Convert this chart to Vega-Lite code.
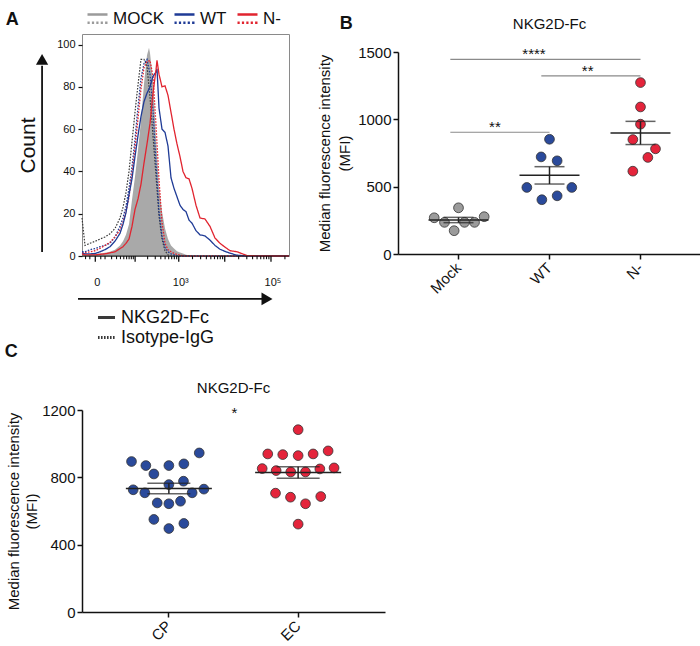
{
  "$schema": "https://vega.github.io/schema/vega-lite/v6.json",
  "padding": {"left": 4, "top": 6, "right": 0, "bottom": 0},
  "config": {
    "font": "Liberation Sans",
    "view": {"stroke": null},
    "axis": {"domainColor": "#111", "tickColor": "#111", "labelColor": "#111", "titleColor": "#111", "grid": false, "titleFontWeight": "normal"},
    "title": {"fontWeight": "normal", "color": "#111"},
    "legend": {"labelColor": "#111"}
  },
  "resolve": {
    "scale": {"fill": "independent", "xOffset": "independent", "color": "independent", "strokeDash": "independent"},
    "legend": {"color": "independent", "strokeDash": "independent", "fill": "independent"}
  },
  "vconcat": [
    {
      "align": "none",
      "resolve": {
        "scale": {"fill": "independent", "xOffset": "independent", "color": "independent", "strokeDash": "independent"},
        "legend": {"color": "independent", "strokeDash": "independent", "fill": "independent"}
      },
      "hconcat": [
        {
          "width": 207,
          "height": 222,
          "view": {"stroke": "#8a8a8a", "strokeWidth": 1},
          "title": {"text": "A", "anchor": "start", "frame": "bounds", "fontSize": 18, "fontWeight": "bold", "offset": -22, "dx": -12},
          "layer": [
            {
              "data": {"name": "hist"},
              "transform": [{"filter": "datum.g === 'Mock' && datum.s === 'NKG2D-Fc'"}],
              "mark": {"type": "area", "color": "#a9a9a9", "opacity": 1},
              "encoding": {
                "x": {"field": "fi", "type": "quantitative", "scale": {"type": "symlog", "constant": 16, "domain": [-15, 245000], "nice": false, "zero": false}, "axis": null},
                "y": {"field": "n", "type": "quantitative", "scale": {"domain": [0, 105], "nice": false},
                  "axis": {"title": "Count", "titleFontSize": 21, "titlePadding": 18, "values": [0,5,10,15,20,25,30,35,40,45,50,55,60,65,70,75,80,85,90,95,100],
                    "labelExpr": "datum.value % 20 == 0 ? datum.label : ''",
                    "tickSize": 4, "tickWidth": 1.2, "domain": false, "labelFontSize": 11, "labelPadding": 3, "labelOverlap": false}}
              }
            },
            {
              "data": {"name": "hist"},
              "transform": [{"filter": "datum.g === 'Mock' && datum.s === 'Isotype-IgG'"}],
              "mark": {"type": "line", "color": "#3a3a3a", "strokeWidth": 1.2},
              "encoding": {
                "x": {"field": "fi", "type": "quantitative", "axis": null},
                "y": {"field": "n", "type": "quantitative"},
                "strokeDash": {"field": "s", "type": "nominal"}
              }
            },
            {
              "data": {"name": "hist"},
              "transform": [{"filter": "datum.g !== 'Mock'"}],
              "mark": {"type": "line", "strokeWidth": 1.3},
              "encoding": {
                "x": {"field": "fi", "type": "quantitative", "axis": null},
                "y": {"field": "n", "type": "quantitative"},
                "color": {"field": "g", "type": "nominal", "scale": {"domain": ["Mock", "WT", "N-"], "range": ["#9b9b9b", "#1f3b96", "#e1242f"]},
                  "legend": {"orient": "top", "direction": "horizontal", "title": null, "symbolType": "M-1,-0.42H1M-1,0.42H-0.78M-0.56,0.42H-0.34M-0.12,0.42H0.1M0.32,0.42H0.54M0.76,0.42H1", "symbolSize": 400, "symbolStrokeWidth": 2.5, "labelFontSize": 17, "labelExpr": "datum.label === 'Mock' ? 'MOCK' : datum.label", "columnPadding": 5, "labelOffset": 4, "offset": 6, "symbolOffset": 4}},
                "strokeDash": {"field": "s", "type": "nominal", "scale": {"domain": ["NKG2D-Fc", "Isotype-IgG"], "range": [[1, 0], [1.6, 1.4]]},
                  "legend": {"orient": "bottom", "direction": "vertical", "title": null, "symbolType": "stroke", "symbolStrokeColor": "#111", "symbolStrokeWidth": 3, "symbolSize": 290, "labelFontSize": 18, "rowPadding": 0, "offset": 48, "symbolOffset": 14}}
              }
            },
            {
              "data": {"values": [{"fi": -15, "fi2": 245000}]},
              "mark": {"type": "rule", "color": "#222", "strokeWidth": 1.2},
              "encoding": {"x": {"field": "fi", "type": "quantitative", "axis": null}, "x2": {"field": "fi2"}, "y": {"datum": 0}}
            },
            {
              "data": {"name": "xticks"},
              "transform": [{"filter": "datum.k === 'major'"}],
              "mark": {"type": "rule", "color": "#111", "strokeWidth": 1.3},
              "encoding": {"x": {"field": "fi", "type": "quantitative", "axis": null}, "y": {"datum": 0}, "y2": {"datum": -2.7}}
            },
            {
              "data": {"name": "xticks"},
              "transform": [{"filter": "datum.k === 'minor'"}],
              "mark": {"type": "rule", "color": "#111", "strokeWidth": 1.1},
              "encoding": {"x": {"field": "fi", "type": "quantitative", "axis": null}, "y": {"datum": 0}, "y2": {"datum": -1.5}}
            },
            {
              "data": {"values": [{"fi": 0, "lab": "0"}, {"fi": 1000, "lab": "10³"}, {"fi": 100000, "lab": "10⁵"}]},
              "mark": {"type": "text", "fontSize": 11, "baseline": "middle", "align": "center", "dx": 2, "color": "#111"},
              "encoding": {"x": {"field": "fi", "type": "quantitative", "axis": null}, "y": {"datum": -12.8}, "text": {"field": "lab"}}
            },
            {
              "data": {"values": [{"fi": -210, "n": 1.9, "n2": 90}]},
              "mark": {"type": "rule", "color": "#111", "strokeWidth": 1.8},
              "encoding": {"x": {"field": "fi", "type": "quantitative", "axis": null}, "y": {"field": "n", "type": "quantitative"}, "y2": {"field": "n2"}}
            },
            {
              "data": {"values": [{"fi": -210, "n": 93}]},
              "mark": {"type": "point", "shape": "triangle-up", "filled": true, "color": "#111", "opacity": 1, "size": 150},
              "encoding": {"x": {"field": "fi", "type": "quantitative", "axis": null}, "y": {"field": "n", "type": "quantitative"}}
            },
            {
              "data": {"values": [{"fi": -21.8, "fi2": 70000, "n": -20.3}]},
              "mark": {"type": "rule", "color": "#111", "strokeWidth": 1.8},
              "encoding": {"x": {"field": "fi", "type": "quantitative", "axis": null}, "x2": {"field": "fi2"}, "y": {"field": "n", "type": "quantitative"}}
            },
            {
              "data": {"values": [{"fi": 82000, "n": -20.3}]},
              "mark": {"type": "point", "shape": "triangle-right", "filled": true, "color": "#111", "opacity": 1, "size": 160},
              "encoding": {"x": {"field": "fi", "type": "quantitative", "axis": null}, "y": {"field": "n", "type": "quantitative"}}
            }
          ]
        },
        {
          "title": {"text": "B", "anchor": "start", "fontSize": 18, "fontWeight": "bold", "offset": -16, "dx": 22},
          "vconcat": [
            {
              "width": 303,
              "height": 220,
              "title": {"text": "NKG2D-Fc", "fontSize": 15, "offset": 2},
              "data": {"values": [
                {"grp":"Mock","jit":0,"mfi":343},{"grp":"Mock","jit":-0.267,"mfi":269},{"grp":"Mock","jit":0.282,"mfi":277},{"grp":"Mock","jit":-0.154,"mfi":235},{"grp":"Mock","jit":0.066,"mfi":235},{"grp":"Mock","jit":0.176,"mfi":235},{"grp":"Mock","jit":-0.048,"mfi":173},
                {"grp":"WT","jit":0,"mfi":852},{"grp":"WT","jit":-0.092,"mfi":721},{"grp":"WT","jit":0.084,"mfi":692},{"grp":"WT","jit":-0.249,"mfi":494},{"grp":"WT","jit":0.245,"mfi":494},{"grp":"WT","jit":-0.084,"mfi":403},{"grp":"WT","jit":0.084,"mfi":432},
                {"grp":"N-","jit":0,"mfi":1273},{"grp":"N-","jit":0,"mfi":1092},{"grp":"N-","jit":0,"mfi":964},{"grp":"N-","jit":-0.084,"mfi":850},{"grp":"N-","jit":0.165,"mfi":781},{"grp":"N-","jit":0.081,"mfi":717},{"grp":"N-","jit":-0.084,"mfi":615}
              ]},
              "layer": [
                {
                  "mark": {"type": "circle", "size": 95, "stroke": "#333", "strokeWidth": 0.8, "opacity": 1},
                  "encoding": {
                    "x": {"field": "grp", "type": "nominal", "title": null, "sort": ["Mock", "WT", "N-"], "scale": {"type": "band", "domain": ["Mock", "WT", "N-"], "paddingInner": 0, "paddingOuter": 0.165},
                      "axis": {"title": null, "labelAngle": -45, "labelAlign": "right", "labelBaseline": "middle", "labelFontSize": 15, "tickSize": 5, "tickWidth": 1.5, "domainWidth": 1.5, "labelPadding": 6}},
                    "xOffset": {"field": "jit", "type": "quantitative", "scale": {"domain": [-0.5, 0.5]}},
                    "y": {"field": "mfi", "type": "quantitative", "title": ["Median fluorescence intensity", "(MFI)"], "scale": {"domain": [0, 1500], "range": [220, 18], "nice": false},
                      "axis": {"titleFontSize": 15, "titleLineHeight": 20, "titlePadding": 5, "values": [0, 500, 1000, 1500], "format": "d", "labelFontSize": 15, "tickSize": 5, "tickWidth": 1.5, "domainWidth": 1.5, "labelPadding": 2}},
                    "fill": {"field": "grp", "type": "nominal", "scale": {"domain": ["Mock", "WT", "N-"], "range": ["#9b9b9b", "#2a4a9b", "#e4243b"]}, "legend": null}
                  }
                },
                {
                  "mark": {"type": "tick", "size": 60, "thickness": 1.5, "color": "#222"},
                  "encoding": {
                    "x": {"field": "grp", "type": "nominal", "title": null},
                    "y": {"aggregate": "mean", "field": "mfi", "type": "quantitative", "title": ["Median fluorescence intensity", "(MFI)"]}
                  }
                },
                {
                  "mark": {"type": "errorbar", "extent": "stderr", "color": "#222", "thickness": 1.5, "ticks": {"size": 30, "thickness": 1.5}},
                  "encoding": {
                    "x": {"field": "grp", "type": "nominal", "title": null},
                    "y": {"field": "mfi", "type": "quantitative", "title": ["Median fluorescence intensity", "(MFI)"]}
                  }
                },
                {
                  "data": {"values": [
                    {"from": "Mock", "to": "N-", "mfi": 1445},
                    {"from": "WT", "to": "N-", "mfi": 1322},
                    {"from": "Mock", "to": "WT", "mfi": 904}
                  ]},
                  "mark": {"type": "rule", "color": "#8a8a8a", "strokeWidth": 1.2},
                  "encoding": {
                    "x": {"field": "from", "type": "nominal", "title": null},
                    "x2": {"field": "to"},
                    "xOffset": {"datum": -0.09},
                    "y": {"field": "mfi", "type": "quantitative", "title": ["Median fluorescence intensity", "(MFI)"]}
                  }
                },
                {
                  "data": {"values": [
                    {"lab": "****", "at": "WT", "off": -0.17, "mfi": 1445},
                    {"lab": "**", "at": "WT", "off": 0.42, "mfi": 1322},
                    {"lab": "**", "at": "Mock", "off": 0.4, "mfi": 904}
                  ]},
                  "mark": {"type": "text", "fontSize": 15, "baseline": "alphabetic", "color": "#111"},
                  "encoding": {
                    "x": {"field": "at", "type": "nominal", "title": null},
                    "xOffset": {"field": "off", "type": "quantitative"},
                    "y": {"field": "mfi", "type": "quantitative", "title": ["Median fluorescence intensity", "(MFI)"]},
                    "text": {"field": "lab"}
                  }
                }
              ]
            }
          ]
        }
      ],
      "spacing": 24
    },
    {
      "title": {"text": "C", "anchor": "start", "fontSize": 18, "fontWeight": "bold", "offset": 20, "dx": -2},
      "vconcat": [
        {
          "width": 303,
          "height": 202,
          "title": {"text": "NKG2D-Fc", "fontSize": 15, "offset": 7},
          "data": {"values": [
            {"grp":"CP","jit":-0.289,"mfi":894},{"grp":"CP","jit":-0.178,"mfi":870},{"grp":"CP","jit":0,"mfi":870},{"grp":"CP","jit":0.116,"mfi":880},{"grp":"CP","jit":0.235,"mfi":945},{"grp":"CP","jit":-0.116,"mfi":820},{"grp":"CP","jit":0.113,"mfi":777},{"grp":"CP","jit":0,"mfi":757},{"grp":"CP","jit":-0.276,"mfi":726},{"grp":"CP","jit":-0.186,"mfi":708},{"grp":"CP","jit":0.271,"mfi":730},{"grp":"CP","jit":0.18,"mfi":708},{"grp":"CP","jit":-0.09,"mfi":648},{"grp":"CP","jit":0,"mfi":643},{"grp":"CP","jit":0.09,"mfi":658},{"grp":"CP","jit":-0.116,"mfi":550},{"grp":"CP","jit":0.116,"mfi":526},{"grp":"CP","jit":0,"mfi":496},
            {"grp":"EC","jit":0,"mfi":1083},{"grp":"EC","jit":-0.235,"mfi":939},{"grp":"EC","jit":-0.119,"mfi":935},{"grp":"EC","jit":0,"mfi":929},{"grp":"EC","jit":0.116,"mfi":939},{"grp":"EC","jit":0.232,"mfi":957},{"grp":"EC","jit":-0.278,"mfi":852},{"grp":"EC","jit":-0.17,"mfi":840},{"grp":"EC","jit":-0.057,"mfi":832},{"grp":"EC","jit":0.057,"mfi":832},{"grp":"EC","jit":0.168,"mfi":850},{"grp":"EC","jit":0.278,"mfi":856},{"grp":"EC","jit":-0.175,"mfi":706},{"grp":"EC","jit":-0.059,"mfi":682},{"grp":"EC","jit":0.057,"mfi":643},{"grp":"EC","jit":0.175,"mfi":686},{"grp":"EC","jit":0,"mfi":522}
          ]},
          "layer": [
            {
              "mark": {"type": "circle", "size": 95, "stroke": "#333", "strokeWidth": 0.8, "opacity": 1},
              "encoding": {
                "x": {"field": "grp", "type": "nominal", "title": null, "sort": ["CP", "EC"], "scale": {"type": "band", "domain": ["CP", "EC"], "paddingInner": 0, "paddingOuter": 0.172},
                  "axis": {"title": null, "labelAngle": -45, "labelAlign": "right", "labelBaseline": "middle", "labelFontSize": 15, "tickSize": 5, "tickWidth": 1.5, "domainWidth": 1.5, "labelPadding": 6}},
                "xOffset": {"field": "jit", "type": "quantitative", "scale": {"domain": [-0.5, 0.5]}},
                "y": {"field": "mfi", "type": "quantitative", "title": ["Median fluorescence intensity", "(MFI)"], "scale": {"domain": [0, 1200], "nice": false},
                  "axis": {"titleFontSize": 15, "titleLineHeight": 18, "titlePadding": 2, "values": [0, 200, 400, 600, 800, 1000, 1200], "format": "d", "labelFontSize": 15, "tickSize": 5, "tickWidth": 1.5, "domainWidth": 1.5, "labelPadding": 2}},
                "fill": {"field": "grp", "type": "nominal", "scale": {"domain": ["CP", "EC"], "range": ["#2a4a9b", "#e4243b"]}, "legend": null}
              }
            },
            {
              "mark": {"type": "tick", "size": 86, "thickness": 1.5, "color": "#222"},
              "encoding": {
                "x": {"field": "grp", "type": "nominal", "title": null},
                "y": {"aggregate": "mean", "field": "mfi", "type": "quantitative", "title": ["Median fluorescence intensity", "(MFI)"]}
              }
            },
            {
              "mark": {"type": "errorbar", "extent": "stderr", "color": "#222", "thickness": 1.5, "ticks": {"size": 43, "thickness": 1.5}},
              "encoding": {
                "x": {"field": "grp", "type": "nominal", "title": null},
                "y": {"field": "mfi", "type": "quantitative", "title": ["Median fluorescence intensity", "(MFI)"]}
              }
            },
            {
              "data": {"values": [{"lab": "*", "at": "CP", "off": 0.508, "mfi": 1155}]},
              "mark": {"type": "text", "fontSize": 15, "baseline": "alphabetic", "color": "#111"},
              "encoding": {
                "x": {"field": "at", "type": "nominal", "title": null},
                "xOffset": {"field": "off", "type": "quantitative"},
                "y": {"field": "mfi", "type": "quantitative", "title": ["Median fluorescence intensity", "(MFI)"]},
                "text": {"field": "lab"}
              }
            }
          ]
        }
      ]
    }
  ],
  "spacing": -5,
  "datasets": {
    "xticks": [
      {"fi": 0, "k": "major"}, {"fi": 100, "k": "major"}, {"fi": 1000, "k": "major"}, {"fi": 10000, "k": "major"}, {"fi": 100000, "k": "major"},
      {"fi": -10, "k": "minor"}, {"fi": -5, "k": "minor"}, {"fi": 5, "k": "minor"},
      {"fi": 10, "k": "minor"}, {"fi": 20, "k": "minor"}, {"fi": 30, "k": "minor"}, {"fi": 40, "k": "minor"}, {"fi": 50, "k": "minor"}, {"fi": 60, "k": "minor"}, {"fi": 70, "k": "minor"}, {"fi": 80, "k": "minor"}, {"fi": 90, "k": "minor"},
      {"fi": 200, "k": "minor"}, {"fi": 300, "k": "minor"}, {"fi": 400, "k": "minor"}, {"fi": 500, "k": "minor"}, {"fi": 600, "k": "minor"}, {"fi": 700, "k": "minor"}, {"fi": 800, "k": "minor"}, {"fi": 900, "k": "minor"},
      {"fi": 2000, "k": "minor"}, {"fi": 3000, "k": "minor"}, {"fi": 4000, "k": "minor"}, {"fi": 5000, "k": "minor"}, {"fi": 6000, "k": "minor"}, {"fi": 7000, "k": "minor"}, {"fi": 8000, "k": "minor"}, {"fi": 9000, "k": "minor"},
      {"fi": 20000, "k": "minor"}, {"fi": 30000, "k": "minor"}, {"fi": 40000, "k": "minor"}, {"fi": 50000, "k": "minor"}, {"fi": 60000, "k": "minor"}, {"fi": 70000, "k": "minor"}, {"fi": 80000, "k": "minor"}, {"fi": 90000, "k": "minor"},
      {"fi": 200000, "k": "minor"}
    ],
    "hist": [
      {"g":"Mock","s":"NKG2D-Fc","fi":-15,"n":0.5},{"g":"Mock","s":"NKG2D-Fc","fi":-10.7,"n":0.5},{"g":"Mock","s":"NKG2D-Fc","fi":-4.8,"n":0.8},{"g":"Mock","s":"NKG2D-Fc","fi":0,"n":1},{"g":"Mock","s":"NKG2D-Fc","fi":4.2,"n":1.2},{"g":"Mock","s":"NKG2D-Fc","fi":9.9,"n":1.5},{"g":"Mock","s":"NKG2D-Fc","fi":17.2,"n":2},{"g":"Mock","s":"NKG2D-Fc","fi":26.6,"n":3},{"g":"Mock","s":"NKG2D-Fc","fi":38.7,"n":5},{"g":"Mock","s":"NKG2D-Fc","fi":47.5,"n":7},{"g":"Mock","s":"NKG2D-Fc","fi":57.7,"n":10},{"g":"Mock","s":"NKG2D-Fc","fi":69.6,"n":15},{"g":"Mock","s":"NKG2D-Fc","fi":83.3,"n":26.5},{"g":"Mock","s":"NKG2D-Fc","fi":99.3,"n":37.5},{"g":"Mock","s":"NKG2D-Fc","fi":117.9,"n":50},{"g":"Mock","s":"NKG2D-Fc","fi":139.4,"n":64},{"g":"Mock","s":"NKG2D-Fc","fi":164.5,"n":81.5},{"g":"Mock","s":"NKG2D-Fc","fi":193.5,"n":95},{"g":"Mock","s":"NKG2D-Fc","fi":215.4,"n":98.5},{"g":"Mock","s":"NKG2D-Fc","fi":227.2,"n":96},{"g":"Mock","s":"NKG2D-Fc","fi":266.4,"n":83},{"g":"Mock","s":"NKG2D-Fc","fi":311.8,"n":56},{"g":"Mock","s":"NKG2D-Fc","fi":364.6,"n":33},{"g":"Mock","s":"NKG2D-Fc","fi":425.9,"n":21},{"g":"Mock","s":"NKG2D-Fc","fi":497,"n":13},{"g":"Mock","s":"NKG2D-Fc","fi":579.6,"n":8},{"g":"Mock","s":"NKG2D-Fc","fi":675.5,"n":5},{"g":"Mock","s":"NKG2D-Fc","fi":786.8,"n":3.5},{"g":"Mock","s":"NKG2D-Fc","fi":916,"n":2.3},{"g":"Mock","s":"NKG2D-Fc","fi":1066,"n":1.7},{"g":"Mock","s":"NKG2D-Fc","fi":1240,"n":1.2},{"g":"Mock","s":"NKG2D-Fc","fi":1442,"n":0.6},{"g":"Mock","s":"NKG2D-Fc","fi":1677,"n":0.3},{"g":"Mock","s":"NKG2D-Fc","fi":1950,"n":0},{"g":"Mock","s":"NKG2D-Fc","fi":245000,"n":0},
      {"g":"Mock","s":"Isotype-IgG","fi":-15,"n":18},{"g":"Mock","s":"Isotype-IgG","fi":-10.7,"n":5},{"g":"Mock","s":"Isotype-IgG","fi":-4.8,"n":6},{"g":"Mock","s":"Isotype-IgG","fi":0,"n":7},{"g":"Mock","s":"Isotype-IgG","fi":4.2,"n":8},{"g":"Mock","s":"Isotype-IgG","fi":9.9,"n":9},{"g":"Mock","s":"Isotype-IgG","fi":17.2,"n":10.5},{"g":"Mock","s":"Isotype-IgG","fi":26.6,"n":13},{"g":"Mock","s":"Isotype-IgG","fi":38.7,"n":18},{"g":"Mock","s":"Isotype-IgG","fi":47.5,"n":23},{"g":"Mock","s":"Isotype-IgG","fi":57.7,"n":30},{"g":"Mock","s":"Isotype-IgG","fi":69.6,"n":40},{"g":"Mock","s":"Isotype-IgG","fi":83.3,"n":54},{"g":"Mock","s":"Isotype-IgG","fi":99.3,"n":68},{"g":"Mock","s":"Isotype-IgG","fi":117.9,"n":81},{"g":"Mock","s":"Isotype-IgG","fi":139.4,"n":93},{"g":"Mock","s":"Isotype-IgG","fi":164.5,"n":93},{"g":"Mock","s":"Isotype-IgG","fi":193.5,"n":90},{"g":"Mock","s":"Isotype-IgG","fi":227.2,"n":75},{"g":"Mock","s":"Isotype-IgG","fi":266.4,"n":57},{"g":"Mock","s":"Isotype-IgG","fi":311.8,"n":38},{"g":"Mock","s":"Isotype-IgG","fi":364.6,"n":19},{"g":"Mock","s":"Isotype-IgG","fi":425.9,"n":8},{"g":"Mock","s":"Isotype-IgG","fi":497,"n":2.5},{"g":"Mock","s":"Isotype-IgG","fi":579.6,"n":0.5},{"g":"Mock","s":"Isotype-IgG","fi":675.5,"n":0},{"g":"Mock","s":"Isotype-IgG","fi":245000,"n":0},
      {"g":"WT","s":"Isotype-IgG","fi":-15,"n":2},{"g":"WT","s":"Isotype-IgG","fi":-10.7,"n":2},{"g":"WT","s":"Isotype-IgG","fi":-4.8,"n":3},{"g":"WT","s":"Isotype-IgG","fi":0,"n":3.5},{"g":"WT","s":"Isotype-IgG","fi":4.2,"n":4.4},{"g":"WT","s":"Isotype-IgG","fi":9.9,"n":5},{"g":"WT","s":"Isotype-IgG","fi":17.2,"n":6},{"g":"WT","s":"Isotype-IgG","fi":26.6,"n":9},{"g":"WT","s":"Isotype-IgG","fi":38.7,"n":14},{"g":"WT","s":"Isotype-IgG","fi":47.5,"n":18},{"g":"WT","s":"Isotype-IgG","fi":57.7,"n":23.5},{"g":"WT","s":"Isotype-IgG","fi":69.6,"n":32},{"g":"WT","s":"Isotype-IgG","fi":83.3,"n":42},{"g":"WT","s":"Isotype-IgG","fi":99.3,"n":55},{"g":"WT","s":"Isotype-IgG","fi":117.9,"n":70.5},{"g":"WT","s":"Isotype-IgG","fi":139.4,"n":84},{"g":"WT","s":"Isotype-IgG","fi":164.5,"n":91},{"g":"WT","s":"Isotype-IgG","fi":193.5,"n":93},{"g":"WT","s":"Isotype-IgG","fi":227.2,"n":86},{"g":"WT","s":"Isotype-IgG","fi":266.4,"n":69},{"g":"WT","s":"Isotype-IgG","fi":311.8,"n":44},{"g":"WT","s":"Isotype-IgG","fi":364.6,"n":21},{"g":"WT","s":"Isotype-IgG","fi":425.9,"n":9.5},{"g":"WT","s":"Isotype-IgG","fi":497,"n":4},{"g":"WT","s":"Isotype-IgG","fi":579.6,"n":2},{"g":"WT","s":"Isotype-IgG","fi":675.5,"n":1},{"g":"WT","s":"Isotype-IgG","fi":786.8,"n":0.5},{"g":"WT","s":"Isotype-IgG","fi":916,"n":0},{"g":"WT","s":"Isotype-IgG","fi":245000,"n":0},
      {"g":"N-","s":"Isotype-IgG","fi":-15,"n":1.5},{"g":"N-","s":"Isotype-IgG","fi":-10.7,"n":1.5},{"g":"N-","s":"Isotype-IgG","fi":-4.8,"n":2},{"g":"N-","s":"Isotype-IgG","fi":0,"n":2.5},{"g":"N-","s":"Isotype-IgG","fi":4.2,"n":3.6},{"g":"N-","s":"Isotype-IgG","fi":9.9,"n":5},{"g":"N-","s":"Isotype-IgG","fi":17.2,"n":6.5},{"g":"N-","s":"Isotype-IgG","fi":26.6,"n":9},{"g":"N-","s":"Isotype-IgG","fi":38.7,"n":12.3},{"g":"N-","s":"Isotype-IgG","fi":47.5,"n":16},{"g":"N-","s":"Isotype-IgG","fi":57.7,"n":21},{"g":"N-","s":"Isotype-IgG","fi":69.6,"n":28},{"g":"N-","s":"Isotype-IgG","fi":83.3,"n":39},{"g":"N-","s":"Isotype-IgG","fi":99.3,"n":51},{"g":"N-","s":"Isotype-IgG","fi":117.9,"n":65},{"g":"N-","s":"Isotype-IgG","fi":139.4,"n":79},{"g":"N-","s":"Isotype-IgG","fi":164.5,"n":89},{"g":"N-","s":"Isotype-IgG","fi":193.5,"n":92},{"g":"N-","s":"Isotype-IgG","fi":227.2,"n":92.5},{"g":"N-","s":"Isotype-IgG","fi":266.4,"n":85},{"g":"N-","s":"Isotype-IgG","fi":311.8,"n":62},{"g":"N-","s":"Isotype-IgG","fi":364.6,"n":36},{"g":"N-","s":"Isotype-IgG","fi":425.9,"n":16},{"g":"N-","s":"Isotype-IgG","fi":497,"n":6},{"g":"N-","s":"Isotype-IgG","fi":579.6,"n":3},{"g":"N-","s":"Isotype-IgG","fi":675.5,"n":2},{"g":"N-","s":"Isotype-IgG","fi":786.8,"n":1.2},{"g":"N-","s":"Isotype-IgG","fi":916,"n":0.8},{"g":"N-","s":"Isotype-IgG","fi":1066,"n":0.4},{"g":"N-","s":"Isotype-IgG","fi":1240,"n":0},{"g":"N-","s":"Isotype-IgG","fi":245000,"n":0},
      {"g":"WT","s":"NKG2D-Fc","fi":-15,"n":1.5},{"g":"WT","s":"NKG2D-Fc","fi":-10.7,"n":1},{"g":"WT","s":"NKG2D-Fc","fi":-4.8,"n":1},{"g":"WT","s":"NKG2D-Fc","fi":0,"n":1.2},{"g":"WT","s":"NKG2D-Fc","fi":4.2,"n":2},{"g":"WT","s":"NKG2D-Fc","fi":9.9,"n":3},{"g":"WT","s":"NKG2D-Fc","fi":17.2,"n":4.4},{"g":"WT","s":"NKG2D-Fc","fi":26.6,"n":7},{"g":"WT","s":"NKG2D-Fc","fi":38.7,"n":10.7},{"g":"WT","s":"NKG2D-Fc","fi":47.5,"n":15},{"g":"WT","s":"NKG2D-Fc","fi":57.7,"n":20.5},{"g":"WT","s":"NKG2D-Fc","fi":69.6,"n":29},{"g":"WT","s":"NKG2D-Fc","fi":83.3,"n":36.5},{"g":"WT","s":"NKG2D-Fc","fi":99.3,"n":47},{"g":"WT","s":"NKG2D-Fc","fi":117.9,"n":57},{"g":"WT","s":"NKG2D-Fc","fi":139.4,"n":66},{"g":"WT","s":"NKG2D-Fc","fi":164.5,"n":73},{"g":"WT","s":"NKG2D-Fc","fi":193.5,"n":77},{"g":"WT","s":"NKG2D-Fc","fi":227.2,"n":80},{"g":"WT","s":"NKG2D-Fc","fi":266.4,"n":85},{"g":"WT","s":"NKG2D-Fc","fi":311.8,"n":87},{"g":"WT","s":"NKG2D-Fc","fi":328.6,"n":88.5},{"g":"WT","s":"NKG2D-Fc","fi":364.6,"n":70},{"g":"WT","s":"NKG2D-Fc","fi":425.9,"n":60},{"g":"WT","s":"NKG2D-Fc","fi":497,"n":58.5},{"g":"WT","s":"NKG2D-Fc","fi":579.6,"n":52},{"g":"WT","s":"NKG2D-Fc","fi":675.5,"n":37},{"g":"WT","s":"NKG2D-Fc","fi":786.8,"n":32},{"g":"WT","s":"NKG2D-Fc","fi":916,"n":28},{"g":"WT","s":"NKG2D-Fc","fi":1066,"n":24},{"g":"WT","s":"NKG2D-Fc","fi":1240,"n":22},{"g":"WT","s":"NKG2D-Fc","fi":1442,"n":21},{"g":"WT","s":"NKG2D-Fc","fi":1677,"n":17},{"g":"WT","s":"NKG2D-Fc","fi":1950,"n":15.5},{"g":"WT","s":"NKG2D-Fc","fi":2382,"n":12},{"g":"WT","s":"NKG2D-Fc","fi":2910,"n":10},{"g":"WT","s":"NKG2D-Fc","fi":3738,"n":9.5},{"g":"WT","s":"NKG2D-Fc","fi":4798,"n":7.5},{"g":"WT","s":"NKG2D-Fc","fi":6157,"n":5},{"g":"WT","s":"NKG2D-Fc","fi":7901,"n":3.2},{"g":"WT","s":"NKG2D-Fc","fi":10138,"n":2.2},{"g":"WT","s":"NKG2D-Fc","fi":13006,"n":1.3},{"g":"WT","s":"NKG2D-Fc","fi":18430,"n":0.4},{"g":"WT","s":"NKG2D-Fc","fi":30320,"n":0},{"g":"WT","s":"NKG2D-Fc","fi":245000,"n":0},
      {"g":"N-","s":"NKG2D-Fc","fi":-15,"n":1},{"g":"N-","s":"NKG2D-Fc","fi":-10.7,"n":0.5},{"g":"N-","s":"NKG2D-Fc","fi":-4.8,"n":0.5},{"g":"N-","s":"NKG2D-Fc","fi":0,"n":0.5},{"g":"N-","s":"NKG2D-Fc","fi":4.2,"n":0.8},{"g":"N-","s":"NKG2D-Fc","fi":9.9,"n":1},{"g":"N-","s":"NKG2D-Fc","fi":17.2,"n":1.5},{"g":"N-","s":"NKG2D-Fc","fi":26.6,"n":2},{"g":"N-","s":"NKG2D-Fc","fi":38.7,"n":3.5},{"g":"N-","s":"NKG2D-Fc","fi":47.5,"n":4.4},{"g":"N-","s":"NKG2D-Fc","fi":57.7,"n":6},{"g":"N-","s":"NKG2D-Fc","fi":69.6,"n":8},{"g":"N-","s":"NKG2D-Fc","fi":83.3,"n":14},{"g":"N-","s":"NKG2D-Fc","fi":99.3,"n":22},{"g":"N-","s":"NKG2D-Fc","fi":117.9,"n":27},{"g":"N-","s":"NKG2D-Fc","fi":139.4,"n":34},{"g":"N-","s":"NKG2D-Fc","fi":164.5,"n":44},{"g":"N-","s":"NKG2D-Fc","fi":193.5,"n":53},{"g":"N-","s":"NKG2D-Fc","fi":227.2,"n":62.6},{"g":"N-","s":"NKG2D-Fc","fi":266.4,"n":77},{"g":"N-","s":"NKG2D-Fc","fi":311.8,"n":88},{"g":"N-","s":"NKG2D-Fc","fi":328.6,"n":92.5},{"g":"N-","s":"NKG2D-Fc","fi":364.6,"n":86},{"g":"N-","s":"NKG2D-Fc","fi":425.9,"n":80},{"g":"N-","s":"NKG2D-Fc","fi":497,"n":80.5},{"g":"N-","s":"NKG2D-Fc","fi":579.6,"n":76},{"g":"N-","s":"NKG2D-Fc","fi":675.5,"n":68},{"g":"N-","s":"NKG2D-Fc","fi":786.8,"n":60},{"g":"N-","s":"NKG2D-Fc","fi":916,"n":53},{"g":"N-","s":"NKG2D-Fc","fi":1066,"n":47},{"g":"N-","s":"NKG2D-Fc","fi":1240,"n":40},{"g":"N-","s":"NKG2D-Fc","fi":1442,"n":37},{"g":"N-","s":"NKG2D-Fc","fi":1677,"n":36.5},{"g":"N-","s":"NKG2D-Fc","fi":1950,"n":32},{"g":"N-","s":"NKG2D-Fc","fi":2382,"n":24},{"g":"N-","s":"NKG2D-Fc","fi":2910,"n":18},{"g":"N-","s":"NKG2D-Fc","fi":3738,"n":17.5},{"g":"N-","s":"NKG2D-Fc","fi":4798,"n":14},{"g":"N-","s":"NKG2D-Fc","fi":6157,"n":8.5},{"g":"N-","s":"NKG2D-Fc","fi":7901,"n":6},{"g":"N-","s":"NKG2D-Fc","fi":10138,"n":4.2},{"g":"N-","s":"NKG2D-Fc","fi":13006,"n":2.5},{"g":"N-","s":"NKG2D-Fc","fi":18430,"n":2},{"g":"N-","s":"NKG2D-Fc","fi":30320,"n":0.2},{"g":"N-","s":"NKG2D-Fc","fi":63970,"n":0},{"g":"N-","s":"NKG2D-Fc","fi":245000,"n":0}
    ]
  }
}
